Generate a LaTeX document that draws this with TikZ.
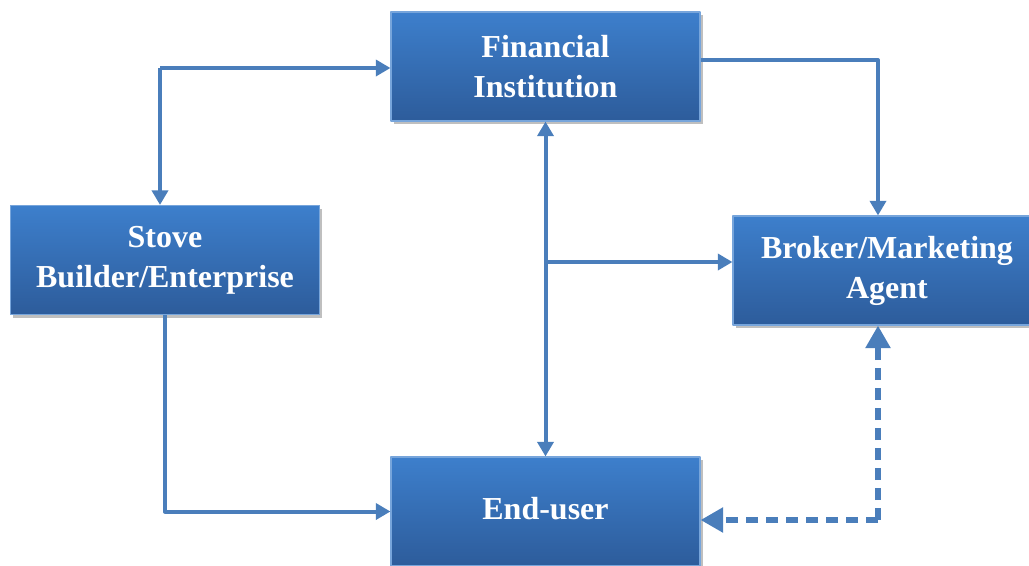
\documentclass[tikz,border=0pt]{standalone}
\usepackage{fontspec}
\setmainfont{Liberation Serif}
\usetikzlibrary{arrows.meta,shadows}
\definecolor{linkblue}{HTML}{4A7EBB}
\definecolor{boxtop}{HTML}{3D7FCC}
\definecolor{boxbot}{HTML}{2D5C9B}
\begin{document}
\begin{tikzpicture}[x=0.75pt,y=-0.75pt,line join=round,
	block/.style={rectangle,draw=boxtop!70!white,line width=0.8pt,top color=boxtop,bottom color=boxbot,
		text=white,font=\bfseries\fontsize{24}{30}\selectfont,align=center,inner sep=0pt,
		minimum width=231.75pt,minimum height=81.75pt,
		drop shadow={shadow xshift=2pt,shadow yshift=-2.5pt,fill=black,opacity=0.25}},
	link/.style={draw=linkblue,line width=3pt,-{Triangle[length=11pt,width=12pt]}},
	dlink/.style={draw=linkblue,line width=4.5pt,dash pattern=on 9pt off 6pt,-{Triangle[length=17pt,width=18pt]}}]
	\useasboundingbox (0,0) rectangle (1029,565);
	% boxes
	\node[block] (fin) at (545.5,66.5) {Financial\\Institution};
	\node[block] (stove) at (165,260) {Stove\\Builder/Enterprise};
	\node[block,minimum width=231pt] (broker) at (887,270.5) {Broker/Marketing\\Agent};
	\node[block] (user) at (545.5,511.5) {\raisebox{5pt}{End-user}};
	% connectors
	\coordinate (split) at (160,68);
	\coordinate (brk) at (878,60);
	\coordinate (mid) at (545.5,262);
	\coordinate (dsh) at (878,520);
	\draw[link] (split) -- (split -| fin.west);
	\draw[link] (split) -- (split |- stove.north);
	\draw[link] (fin.east |- brk) -- (brk) -- (brk |- broker.north);
	\draw[link,{Triangle[length=11pt,width=12pt]}-{Triangle[length=11pt,width=12pt]}] (fin.south) -- (user.north);
	\draw[link] (mid) -- (mid -| broker.west);
	\draw[link] (stove.south) |- (user.west);
	\draw[dlink] (dsh) -- (dsh -| user.east);
	\draw[dlink] (dsh) -- (dsh |- broker.south);
\end{tikzpicture}
\end{document}
